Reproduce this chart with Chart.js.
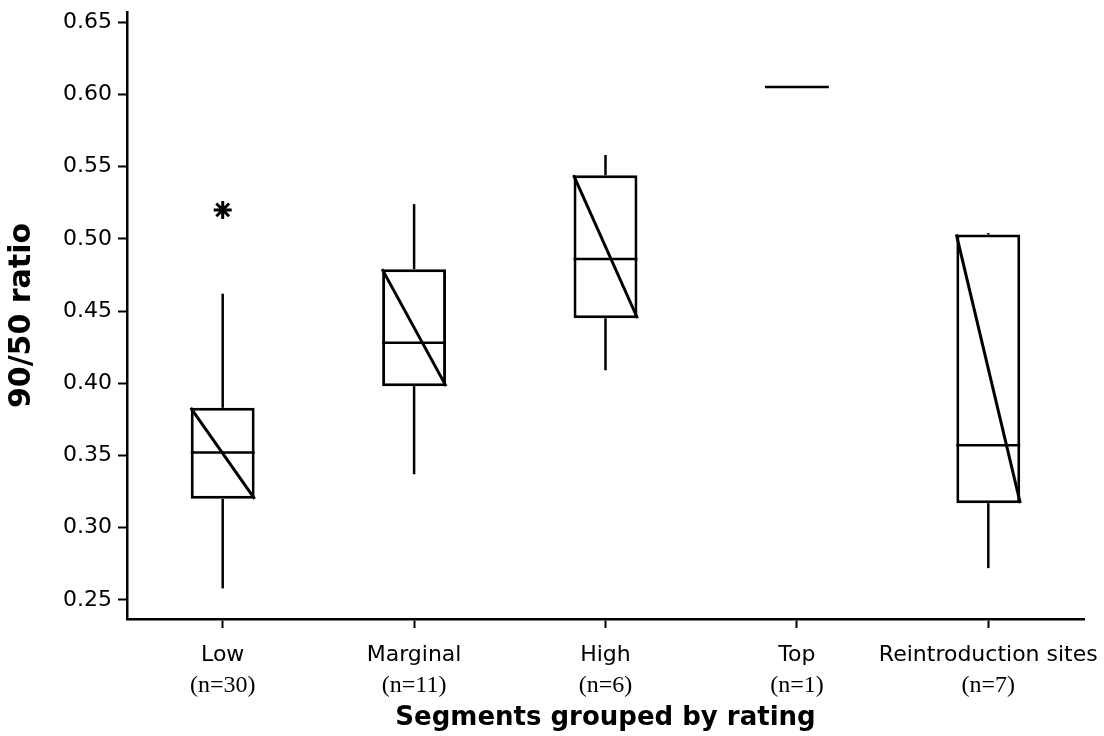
<!DOCTYPE html>
<html>
<head>
<meta charset="utf-8">
<script src="https://cdn.jsdelivr.net/npm/chart.js@4/dist/chart.umd.min.js"></script>
<style>
  body { margin: 0; background: #fff; }
</style>
</head>
<body>
<canvas id="boxChart" width="1104" height="736"></canvas>
<script>
// categories and sample sizes
const categories = ['Low', 'Marginal', 'High', 'Top', 'Reintroduction sites'];
const nLabels = ['(n=30)', '(n=11)', '(n=6)', '(n=1)', '(n=7)'];

// box plot values
const q1 = [0.320, 0.398, 0.445, null, 0.317];
const q3 = [0.383, 0.479, 0.544, null, 0.503];
const medians = [0.352, 0.428, 0.486, 0.605, 0.357];
const whiskerLow = [0.258, 0.337, 0.409, null, 0.272];
const whiskerHigh = [0.462, 0.524, 0.558, null, 0.504];
const outliers = [0.520, null, null, null, null];

const yTicks = [0.25, 0.30, 0.35, 0.40, 0.45, 0.50, 0.55, 0.60, 0.65];

const BOX_FRACTION = 0.334;

// whiskers, medians and the diagonal line in each box
const boxExtras = {
  id: 'boxExtras',
  afterDatasetsDraw(chart) {
    const ctx = chart.ctx;
    const x = chart.scales.x;
    const y = chart.scales.y;
    const step = x.getPixelForValue(1) - x.getPixelForValue(0);
    const half = step * BOX_FRACTION / 2;

    ctx.save();
    ctx.strokeStyle = '#000';
    ctx.lineCap = 'butt';

    categories.forEach((cat, i) => {
      const cx = x.getPixelForValue(i);
      const left = cx - half;
      const right = cx + half;

      ctx.lineWidth = 2.5;
      if (q3[i] !== null && whiskerHigh[i] !== null) {
        ctx.beginPath();
        ctx.moveTo(cx, y.getPixelForValue(q3[i]));
        ctx.lineTo(cx, y.getPixelForValue(whiskerHigh[i]));
        ctx.stroke();
      }
      if (q1[i] !== null && whiskerLow[i] !== null) {
        ctx.beginPath();
        ctx.moveTo(cx, y.getPixelForValue(q1[i]));
        ctx.lineTo(cx, y.getPixelForValue(whiskerLow[i]));
        ctx.stroke();
      }

      // median
      ctx.beginPath();
      ctx.moveTo(left, y.getPixelForValue(medians[i]));
      ctx.lineTo(right, y.getPixelForValue(medians[i]));
      ctx.stroke();

      // diagonal from upper left to lower right
      if (q1[i] !== null && q3[i] !== null) {
        ctx.lineWidth = 3;
        ctx.beginPath();
        ctx.moveTo(left, y.getPixelForValue(q3[i]));
        ctx.lineTo(right, y.getPixelForValue(q1[i]));
        ctx.stroke();
      }
    });
    ctx.restore();
  }
};

const ctx = document.getElementById('boxChart').getContext('2d');

new Chart(ctx, {
  type: 'bar',
  data: {
    labels: categories,
    datasets: [
      {
        label: 'boxes',
        data: q1.map((v, i) => (v === null ? null : [v, q3[i]])),
        backgroundColor: '#fff',
        borderColor: '#000',
        borderWidth: 3,
        borderSkipped: false,
        categoryPercentage: 1,
        barPercentage: BOX_FRACTION,
        order: 2
      },
      {
        type: 'line',
        label: 'outliers',
        data: outliers,
        showLine: false,
        pointStyle: 'star',
        pointRadius: 9,
        borderWidth: 3,
        borderColor: '#000',
        backgroundColor: '#000',
        order: 1
      }
    ]
  },
  options: {
    responsive: false,
    animation: false,
    layout: { padding: { top: 10, right: 20, left: 0, bottom: 0 } },
    plugins: {
      legend: { display: false },
      tooltip: { enabled: false }
    },
    scales: {
      x: {
        type: 'category',
        offset: true,
        weight: 0,
        grid: { drawOnChartArea: false, tickLength: 9, tickColor: '#000', tickWidth: 2, offset: false },
        border: { color: '#000', width: 2.5 },
        ticks: {
          color: '#000',
          padding: 14,
          maxRotation: 0,
          minRotation: 0,
          autoSkip: false,
          font: { family: 'DejaVu Sans', size: 22 }
        },
        afterFit(scale) {
          scale.height = 52;
          scale.paddingLeft = 0;
          scale.paddingRight = 0;
        }
      },
      x2: {
        type: 'category',
        labels: nLabels,
        position: 'bottom',
        offset: true,
        weight: 1,
        grid: { display: false, drawTicks: false },
        border: { display: false },
        ticks: {
          color: '#000',
          padding: 0,
          maxRotation: 0,
          minRotation: 0,
          autoSkip: false,
          font: { family: 'Liberation Serif', size: 24 }
        },
        title: {
          display: true,
          text: 'Segments grouped by rating',
          color: '#000',
          padding: { top: 0, bottom: 2 },
          font: { family: 'DejaVu Sans', size: 26, weight: 'bold' }
        },
        afterFit(scale) {
          scale.height = 65;
          scale.paddingLeft = 0;
          scale.paddingRight = 0;
        }
      },
      y: {
        min: 0.2368,
        max: 0.657,
        grid: { drawOnChartArea: false, tickLength: 9, tickColor: '#000', tickWidth: 2 },
        border: { color: '#000', width: 2.5 },
        afterBuildTicks(scale) {
          scale.ticks = yTicks.map(v => ({ value: v }));
        },
        ticks: {
          color: '#000',
          padding: 6,
          font: { family: 'DejaVu Sans', size: 22 },
          callback: v => v.toFixed(2)
        },
        title: {
          display: true,
          text: '90/50 ratio',
          color: '#000',
          padding: { top: 4, bottom: 0 },
          font: { family: 'DejaVu Sans', size: 30, weight: 'bold' }
        },
        afterFit(scale) {
          scale.width = 127;
          scale.paddingTop = 0;
          scale.paddingBottom = 0;
        }
      }
    }
  },
  plugins: [boxExtras]
});
</script>
</body>
</html>
